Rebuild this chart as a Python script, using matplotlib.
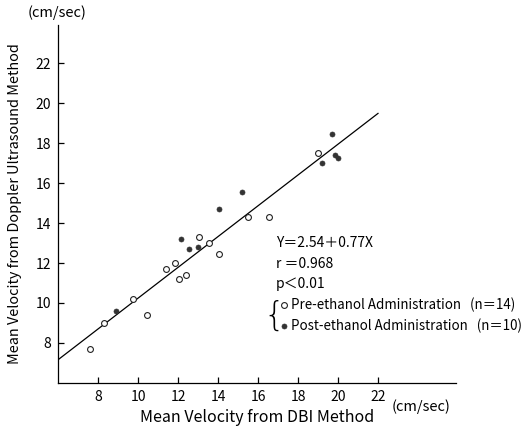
import numpy as np
import matplotlib
matplotlib.use('Agg')
import matplotlib.pyplot as plt
from matplotlib.lines import Line2D

plt.rcParams['font.family'] = ['Noto Sans CJK JP', 'DejaVu Sans']

# ── Datos ────────────────────────────────────────────────────────────────────
# Pre-ethanol (círculos abiertos)
pre_x = [7.6, 8.3, 9.75, 10.45, 11.4, 11.85, 12.05, 12.4, 13.05, 13.55, 14.05, 15.5, 16.55, 19.0]
pre_y = [7.7, 9.0, 10.2, 9.4, 11.7, 12.0, 11.2, 11.4, 13.3, 13.0, 12.45, 14.3, 14.3, 17.5]
# Post-ethanol (círculos rellenos)
post_x = [8.9, 12.15, 12.55, 13.0, 14.05, 15.2, 19.2, 19.7, 19.85, 20.0]
post_y = [9.6, 13.2, 12.7, 12.8, 14.7, 15.55, 17.0, 18.45, 17.4, 17.25]

# Recta de regresión Y = a + bX
reg_a, reg_b = 2.54, 0.77
reg_x = [6, 22]

xticks = [8, 10, 12, 14, 16, 18, 20, 22]
yticks = [8, 10, 12, 14, 16, 18, 20, 22]

# ── Gráfico ──────────────────────────────────────────────────────────────────
fig = plt.figure(figsize=(5.28, 4.30), dpi=100)
ax = fig.add_axes([58 / 528, 47 / 430, 398 / 528, 358 / 430])

rx = np.array(reg_x, dtype=float)
ax.plot(rx, reg_a + reg_b * rx, color='black', lw=0.9)
ax.plot(pre_x, pre_y, 'o', mfc='white', mec='#222222', mew=0.8, ms=4.2, ls='none')
ax.plot(post_x, post_y, 'o', mfc='#333333', mec='#333333', mew=0.5, ms=3.6, ls='none')

ax.set_xlim(6, 25.9)
ax.set_ylim(6, 23.9)
ax.set_xticks(xticks)
ax.set_yticks(yticks)
ax.tick_params(direction='in', length=4, width=0.9, labelsize=10, pad=5)
for s in ['top', 'right']:
    ax.spines[s].set_visible(False)
for s in ['left', 'bottom']:
    ax.spines[s].set_linewidth(0.9)

ax.set_xlabel("Mean Velocity from DBI Method", fontsize=11.5, labelpad=4)
ax.set_ylabel("Mean Velocity from Doppler Ultrasound Method", fontsize=10.4, labelpad=10)

fig.text(28 / 528, 1 - 13 / 430, "(cm/sec)", fontsize=10.5, va='center', ha='left')
fig.text(392 / 528, 1 - 407 / 430, "(cm/sec)", fontsize=10.5, va='center', ha='left')

fs = 10
fig.text(276 / 528, 1 - 243 / 430, "Y＝2.54＋0.77X", fontsize=fs, va='center')
fig.text(276 / 528, 1 - 264 / 430, "r ＝0.968", fontsize=fs, va='center')
fig.text(276 / 528, 1 - 284 / 430, "p＜0.01", fontsize=fs, va='center')
fig.text(263 / 528, 1 - 316 / 430, "{", fontsize=24, va='center', ha='left',
         family='DejaVu Sans', fontweight='light')

# marcadores de la leyenda
fig.add_artist(Line2D([284 / 528], [1 - 305 / 430], marker='o', mfc='white', mec='#222222',
                      mew=0.8, ms=4.2, transform=fig.transFigure))
fig.add_artist(Line2D([284 / 528], [1 - 326 / 430], marker='o', mfc='#333333', mec='#333333',
                      mew=0.5, ms=3.6, transform=fig.transFigure))
fig.text(291 / 528, 1 - 305 / 430, "Pre-ethanol Administration   (n＝14)", fontsize=9.6, va='center')
fig.text(291 / 528, 1 - 326 / 430, "Post-ethanol Administration   (n＝10)", fontsize=9.6, va='center')

plt.savefig("out.png", dpi=100)
plt.close()
